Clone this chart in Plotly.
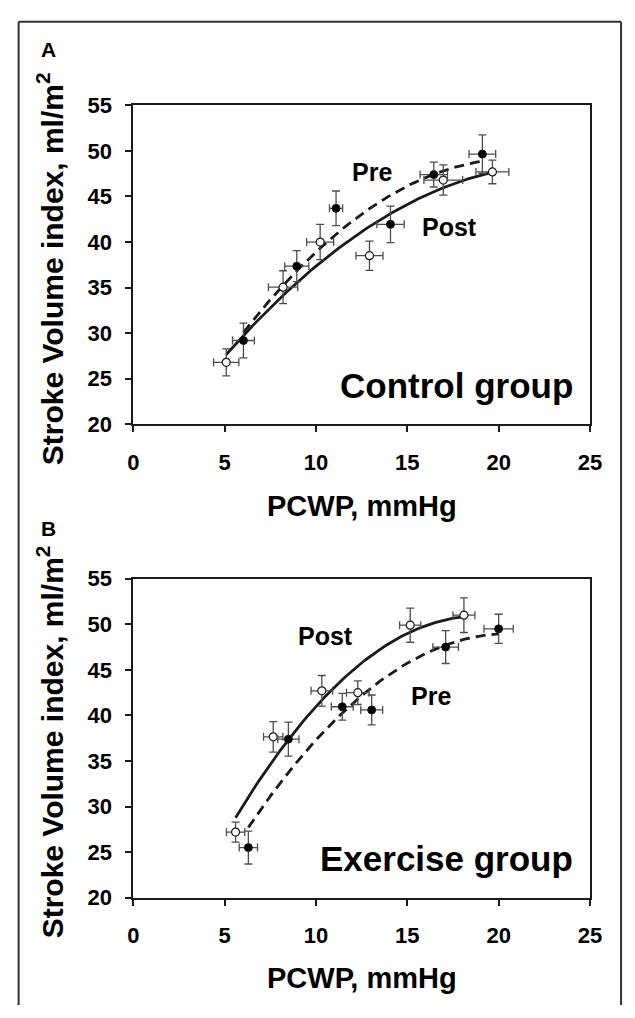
import numpy as np
import plotly.graph_objects as go

W, H = 635, 1018

# ---------------- data ----------------
# Panel A – Control group (Pre = filled, Post = open)
a_pre_x = [6.03, 8.95, 11.10, 14.08, 16.45, 19.11]
a_pre_y = [29.2, 37.35, 43.7, 41.94, 47.4, 49.65]
a_pre_ex = [0.60, 0.66, 0.36, 0.75, 0.75, 0.73]
a_pre_ey = [1.9, 1.7, 1.9, 2.0, 1.36, 2.1]

a_post_x = [5.09, 8.20, 10.23, 12.93, 16.97, 19.66]
a_post_y = [26.8, 35.05, 40.0, 38.5, 46.8, 47.7]
a_post_ex = [0.69, 0.80, 0.74, 0.74, 1.06, 0.90]
a_post_ey = [1.48, 1.8, 1.93, 1.6, 1.66, 1.3]

# Panel B – Exercise group
b_pre_x = [6.30, 8.49, 11.44, 13.05, 17.10, 20.00]
b_pre_y = [25.5, 37.4, 40.95, 40.6, 47.5, 49.5]
b_pre_ex = [0.50, 0.58, 0.60, 0.60, 0.70, 0.80]
b_pre_ey = [1.8, 1.87, 1.46, 1.64, 1.8, 1.6]

b_post_x = [5.60, 7.66, 10.32, 12.29, 15.16, 18.10]
b_post_y = [27.2, 37.65, 42.7, 42.5, 49.9, 51.0]
b_post_ex = [0.50, 0.53, 0.59, 0.62, 0.58, 0.60]
b_post_ey = [1.1, 1.68, 1.68, 1.3, 1.87, 1.9]

x_ticks = [0, 5, 10, 15, 20, 25]
y_ticks = [20, 25, 30, 35, 40, 45, 50, 55]

FONT = "Liberation Sans, Arial, sans-serif"
INK = "#1a1a1a"
ERR = "#4d4d4d"


def px_x(p):
    return p / W


def px_y(p):
    return 1 - p / H


def trend(xs, ys):
    # second-order polynomial trendline over the data range
    c = np.polyfit(xs, ys, 2)
    xx = np.linspace(min(xs), max(xs), 80)
    return xx, np.polyval(c, xx)


fig = go.Figure()


def add_panel(xa, ya, pre, post):
    (px_, py_, pex, pey) = pre
    (qx, qy, qex, qey) = post
    tx, ty = trend(px_, py_)
    fig.add_trace(go.Scatter(x=tx, y=ty, mode="lines", xaxis=xa, yaxis=ya,
                             line=dict(color=INK, width=2.8, dash="10px,6px"),
                             hoverinfo="skip", showlegend=False))
    tx, ty = trend(qx, qy)
    fig.add_trace(go.Scatter(x=tx, y=ty, mode="lines", xaxis=xa, yaxis=ya,
                             line=dict(color=INK, width=2.8),
                             hoverinfo="skip", showlegend=False))
    eb = dict(type="data", color=ERR, thickness=1.3, width=4)
    fig.add_trace(go.Scatter(x=qx, y=qy, mode="markers", xaxis=xa, yaxis=ya,
                             error_x=dict(eb, array=qex), error_y=dict(eb, array=qey),
                             marker=dict(symbol="circle", size=8, color="white",
                                         line=dict(color=INK, width=1.2)),
                             showlegend=False))
    fig.add_trace(go.Scatter(x=px_, y=py_, mode="markers", xaxis=xa, yaxis=ya,
                             error_x=dict(eb, array=pex), error_y=dict(eb, array=pey),
                             marker=dict(symbol="circle", size=8, color="black",
                                         line=dict(color=INK, width=1)),
                             showlegend=False))


add_panel("x", "y", (a_pre_x, a_pre_y, a_pre_ex, a_pre_ey),
          (a_post_x, a_post_y, a_post_ex, a_post_ey))
add_panel("x2", "y2", (b_pre_x, b_pre_y, b_pre_ex, b_pre_ey),
          (b_post_x, b_post_y, b_post_ex, b_post_ey))

xdom = [px_x(131), px_x(601)]
ax_common = dict(showline=True, mirror=True, linecolor=INK, linewidth=2,
                 ticks="outside", ticklen=6, tickwidth=1.5, tickcolor=INK,
                 showgrid=False, zeroline=False,
                 tickfont=dict(family=FONT, size=22, color="black", weight="bold"))

fig.update_layout(
    width=W, height=H,
    margin=dict(l=0, r=0, t=0, b=0),
    paper_bgcolor="white", plot_bgcolor="white",
    showlegend=False,
    xaxis=dict(ax_common, domain=xdom, range=[0, 25], tickvals=x_ticks,
               anchor="y", ticklabelstandoff=11),
    yaxis=dict(ax_common, domain=[px_y(422.7), px_y(95.7)], range=[20, 55],
               tickvals=y_ticks, anchor="x", ticklabelstandoff=9),
    xaxis2=dict(ax_common, domain=xdom, range=[0, 25], tickvals=x_ticks,
                anchor="y2", ticklabelstandoff=11),
    yaxis2=dict(ax_common, domain=[px_y(908), px_y(581)], range=[20, 55],
                tickvals=y_ticks, anchor="x2", ticklabelstandoff=9),
)

ann = []


def bold(s):
    return dict(family=FONT, size=s, color="black", weight="bold")


def paper_text(text, x, y, size, angle=0):
    return dict(text=text, x=px_x(x), y=px_y(y), xref="paper", yref="paper",
                xanchor="center", yanchor="middle", textangle=angle,
                showarrow=False, font=bold(size))


# panel letters
ann.append(paper_text("A", 44, 38, 21))
ann.append(paper_text("B", 44, 529, 21))
# axis titles
for yc in (263, 748):
    ann.append(paper_text("Stroke Volume index, ml/m<sup>2</sup>", 45, yc, 30, -90))
for yc in (506, 990):
    ann.append(paper_text("PCWP, mmHg", 366, yc, 29))
# in-plot labels
ann.append(dict(text="Pre", x=13.07, y=47.7, xref="x", yref="y", showarrow=False,
                xanchor="center", yanchor="middle", font=bold(25)))
ann.append(dict(text="Post", x=17.32, y=41.7, xref="x", yref="y", showarrow=False,
                xanchor="center", yanchor="middle", font=bold(25)))
ann.append(dict(text="Control group", x=24.2, y=24.3, xref="x", yref="y", xanchor="right",
                yanchor="middle", showarrow=False, font=bold(35)))
ann.append(dict(text="Post", x=10.53, y=48.7, xref="x2", yref="y2", showarrow=False,
                xanchor="center", yanchor="middle", font=bold(25)))
ann.append(dict(text="Pre", x=16.3, y=42.1, xref="x2", yref="y2", showarrow=False,
                xanchor="center", yanchor="middle", font=bold(25)))
ann.append(dict(text="Exercise group", x=24.2, y=24.3, xref="x2", yref="y2", xanchor="right",
                yanchor="middle", showarrow=False, font=bold(35)))
fig.update_layout(annotations=ann)

# outer figure frame (left, top, right edges) kept inside the page
frame = dict(color="#333333", width=2)
fig.add_shape(type="line", xref="paper", yref="paper",
              x0=px_x(13), x1=px_x(13), y0=0, y1=px_y(10), line=frame)
fig.add_shape(type="line", xref="paper", yref="paper",
              x0=px_x(13), x1=px_x(633), y0=px_y(10), y1=px_y(10), line=frame)
fig.add_shape(type="line", xref="paper", yref="paper",
              x0=px_x(633), x1=px_x(633), y0=0, y1=px_y(10), line=frame)

fig.write_html("out.html", config={"displayModeBar": False},
               post_script="document.body.style.margin='0';document.body.style.overflow='hidden';")
